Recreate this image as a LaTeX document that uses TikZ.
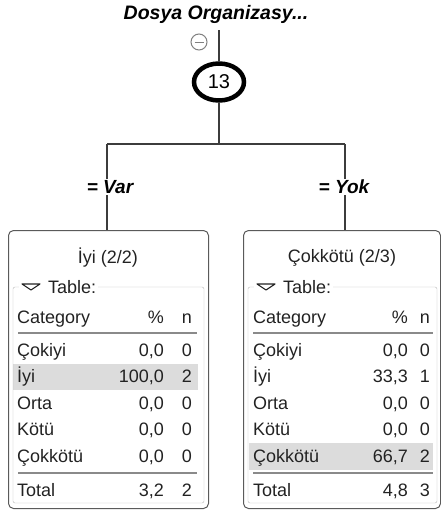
\documentclass[tikz,border=0pt]{standalone}
\usepackage{fontspec}
\setmainfont{Liberation Sans}
\usetikzlibrary{shapes.geometric}

\definecolor{edgegray}{HTML}{3C3C3C}
\definecolor{boxgray}{HTML}{5A5A5A}
\definecolor{framegray}{HTML}{B9B9B9}
\definecolor{rulegray}{HTML}{8A8A8A}
\definecolor{rowgray}{HTML}{DCDCDC}
\definecolor{txtgray}{HTML}{222222}

\begin{document}
\begin{tikzpicture}[
            x=1pt, y=-1pt,
            edge/.style={draw=edgegray, line width=1.6pt},
            root node/.style={ellipse, draw=black, line width=4.5pt, minimum width=50pt,
                              minimum height=37pt, inner sep=0pt, font=\fontsize{20}{20}\selectfont},
            split label/.style={fill=white, inner sep=1pt, font=\fontsize{19}{20}\selectfont\bfseries\itshape},
            leaf box/.style={draw=boxgray, line width=1pt, rounded corners=5pt, anchor=north west,
                             minimum height=278pt, inner sep=0pt},
            cell/.style={font=\fontsize{18}{20}\selectfont, text=txtgray, inner sep=0pt},
            table rule/.style={draw=rulegray, line width=1.5pt},
            ]
            \useasboundingbox (0,0) rectangle (441,514);

            % root of the tree
            \node[font=\fontsize{19.5}{20}\selectfont\bfseries\itshape] (title) at (216,14) {Dosya Organizasy...};
            \coordinate (stem) at (219,30);
            \node[root node] (13) at (219,82) {13};
            \node[circle, draw=gray, line width=1pt, minimum size=16pt, inner sep=0pt] (fold) at (199,42) {};
            \draw[gray, line width=1pt] ([xshift=4pt]fold.west) -- ([xshift=-4pt]fold.east);

            % leaves
            \node[leaf box, minimum width=200pt] (var) at (8,230) {};
            \node[leaf box, minimum width=197pt] (yok) at (243,230) {};

            \coordinate (split) at (219,144);
            \coordinate (fork L) at (107,144);
            \coordinate (fork R) at (345,144);
            \draw[edge] (stem) -- (13);
            \draw[edge] (13) -- (split);
            \draw[edge] (fork L) -- (fork R);
            \draw[edge] (fork L) -- (fork L |- var.north);
            \draw[edge] (fork R) -- (fork R |- yok.north);
            \node[split label] (var label) at (110,187) {= Var};
            \node[split label] (yok label) at (344,187) {= Yok};

            % table of the left leaf
            \begin{scope}[shift={(8,230)}]
                \fill[rowgray] (5,134) rectangle (190,160);
                \node[cell] (var title) at (100,28) {İyi (2/2)};
                \draw[framegray, rounded corners=2pt] (5,57) rectangle (196,273);
                \fill[white] (11,50) rectangle (38,64);
                \node[cell, fill=white, inner sep=2pt, anchor=west] (var table) at (38,57) {Table:};
                \draw[txtgray, line width=1.1pt, line join=round] (14,54) -- (32,54) -- (23,60) -- cycle;
                \node[cell, anchor=base west] (var head) at (9,93) {Category};
                \node[cell, anchor=base east] (var pct) at (156,93) {\%};
                \node[cell, anchor=base east] (var n) at (184,93) {n};
                \draw[table rule] (10,103) -- (189,103);
                \foreach \cat/\pct/\cnt [count=\i] in {Çokiyi/{0,0}/0, İyi/{100,0}/2, Orta/{0,0}/0, Kötü/{0,0}/0, Çokkötü/{0,0}/0}{
                    \node[cell, anchor=base west] (var cat \i) at (9,{126+26.6*(\i-1)}) {\cat};
                    \node[cell, anchor=base east] (var pct \i) at (156,{126+26.6*(\i-1)}) {\pct};
                    \node[cell, anchor=base east] (var n \i) at (184,{126+26.6*(\i-1)}) {\cnt};
                }
                \draw[table rule] (10,243) -- (189,243);
                \node[cell, anchor=base west] (var total) at (9,266) {Total};
                \node[cell, anchor=base east] (var total pct) at (156,266) {3,2};
                \node[cell, anchor=base east] (var total n) at (184,266) {2};
            \end{scope}

            % table of the right leaf
            \begin{scope}[shift={(243,230)}]
                \fill[rowgray] (6,213) rectangle (190,240);
                \node[cell] (yok title) at (99,28) {Çokkötü (2/3)};
                \draw[framegray, rounded corners=2pt] (5,57) rectangle (194,273);
                \fill[white] (11,50) rectangle (38,64);
                \node[cell, fill=white, inner sep=2pt, anchor=west] (yok table) at (38,57) {Table:};
                \draw[txtgray, line width=1.1pt, line join=round] (14,54) -- (32,54) -- (23,60) -- cycle;
                \node[cell, anchor=base west] (yok head) at (10,93) {Category};
                \node[cell, anchor=base east] (yok pct) at (165,93) {\%};
                \node[cell, anchor=base east] (yok n) at (187,93) {n};
                \draw[table rule] (10,103) -- (190,103);
                \foreach \cat/\pct/\cnt [count=\i] in {Çokiyi/{0,0}/0, İyi/{33,3}/1, Orta/{0,0}/0, Kötü/{0,0}/0, Çokkötü/{66,7}/2}{
                    \node[cell, anchor=base west] (yok cat \i) at (10,{126+26.6*(\i-1)}) {\cat};
                    \node[cell, anchor=base east] (yok pct \i) at (165,{126+26.6*(\i-1)}) {\pct};
                    \node[cell, anchor=base east] (yok n \i) at (187,{126+26.6*(\i-1)}) {\cnt};
                }
                \draw[table rule] (10,243) -- (190,243);
                \node[cell, anchor=base west] (yok total) at (10,266) {Total};
                \node[cell, anchor=base east] (yok total pct) at (165,266) {4,8};
                \node[cell, anchor=base east] (yok total n) at (187,266) {3};
            \end{scope}
        \end{tikzpicture}
\end{document}
